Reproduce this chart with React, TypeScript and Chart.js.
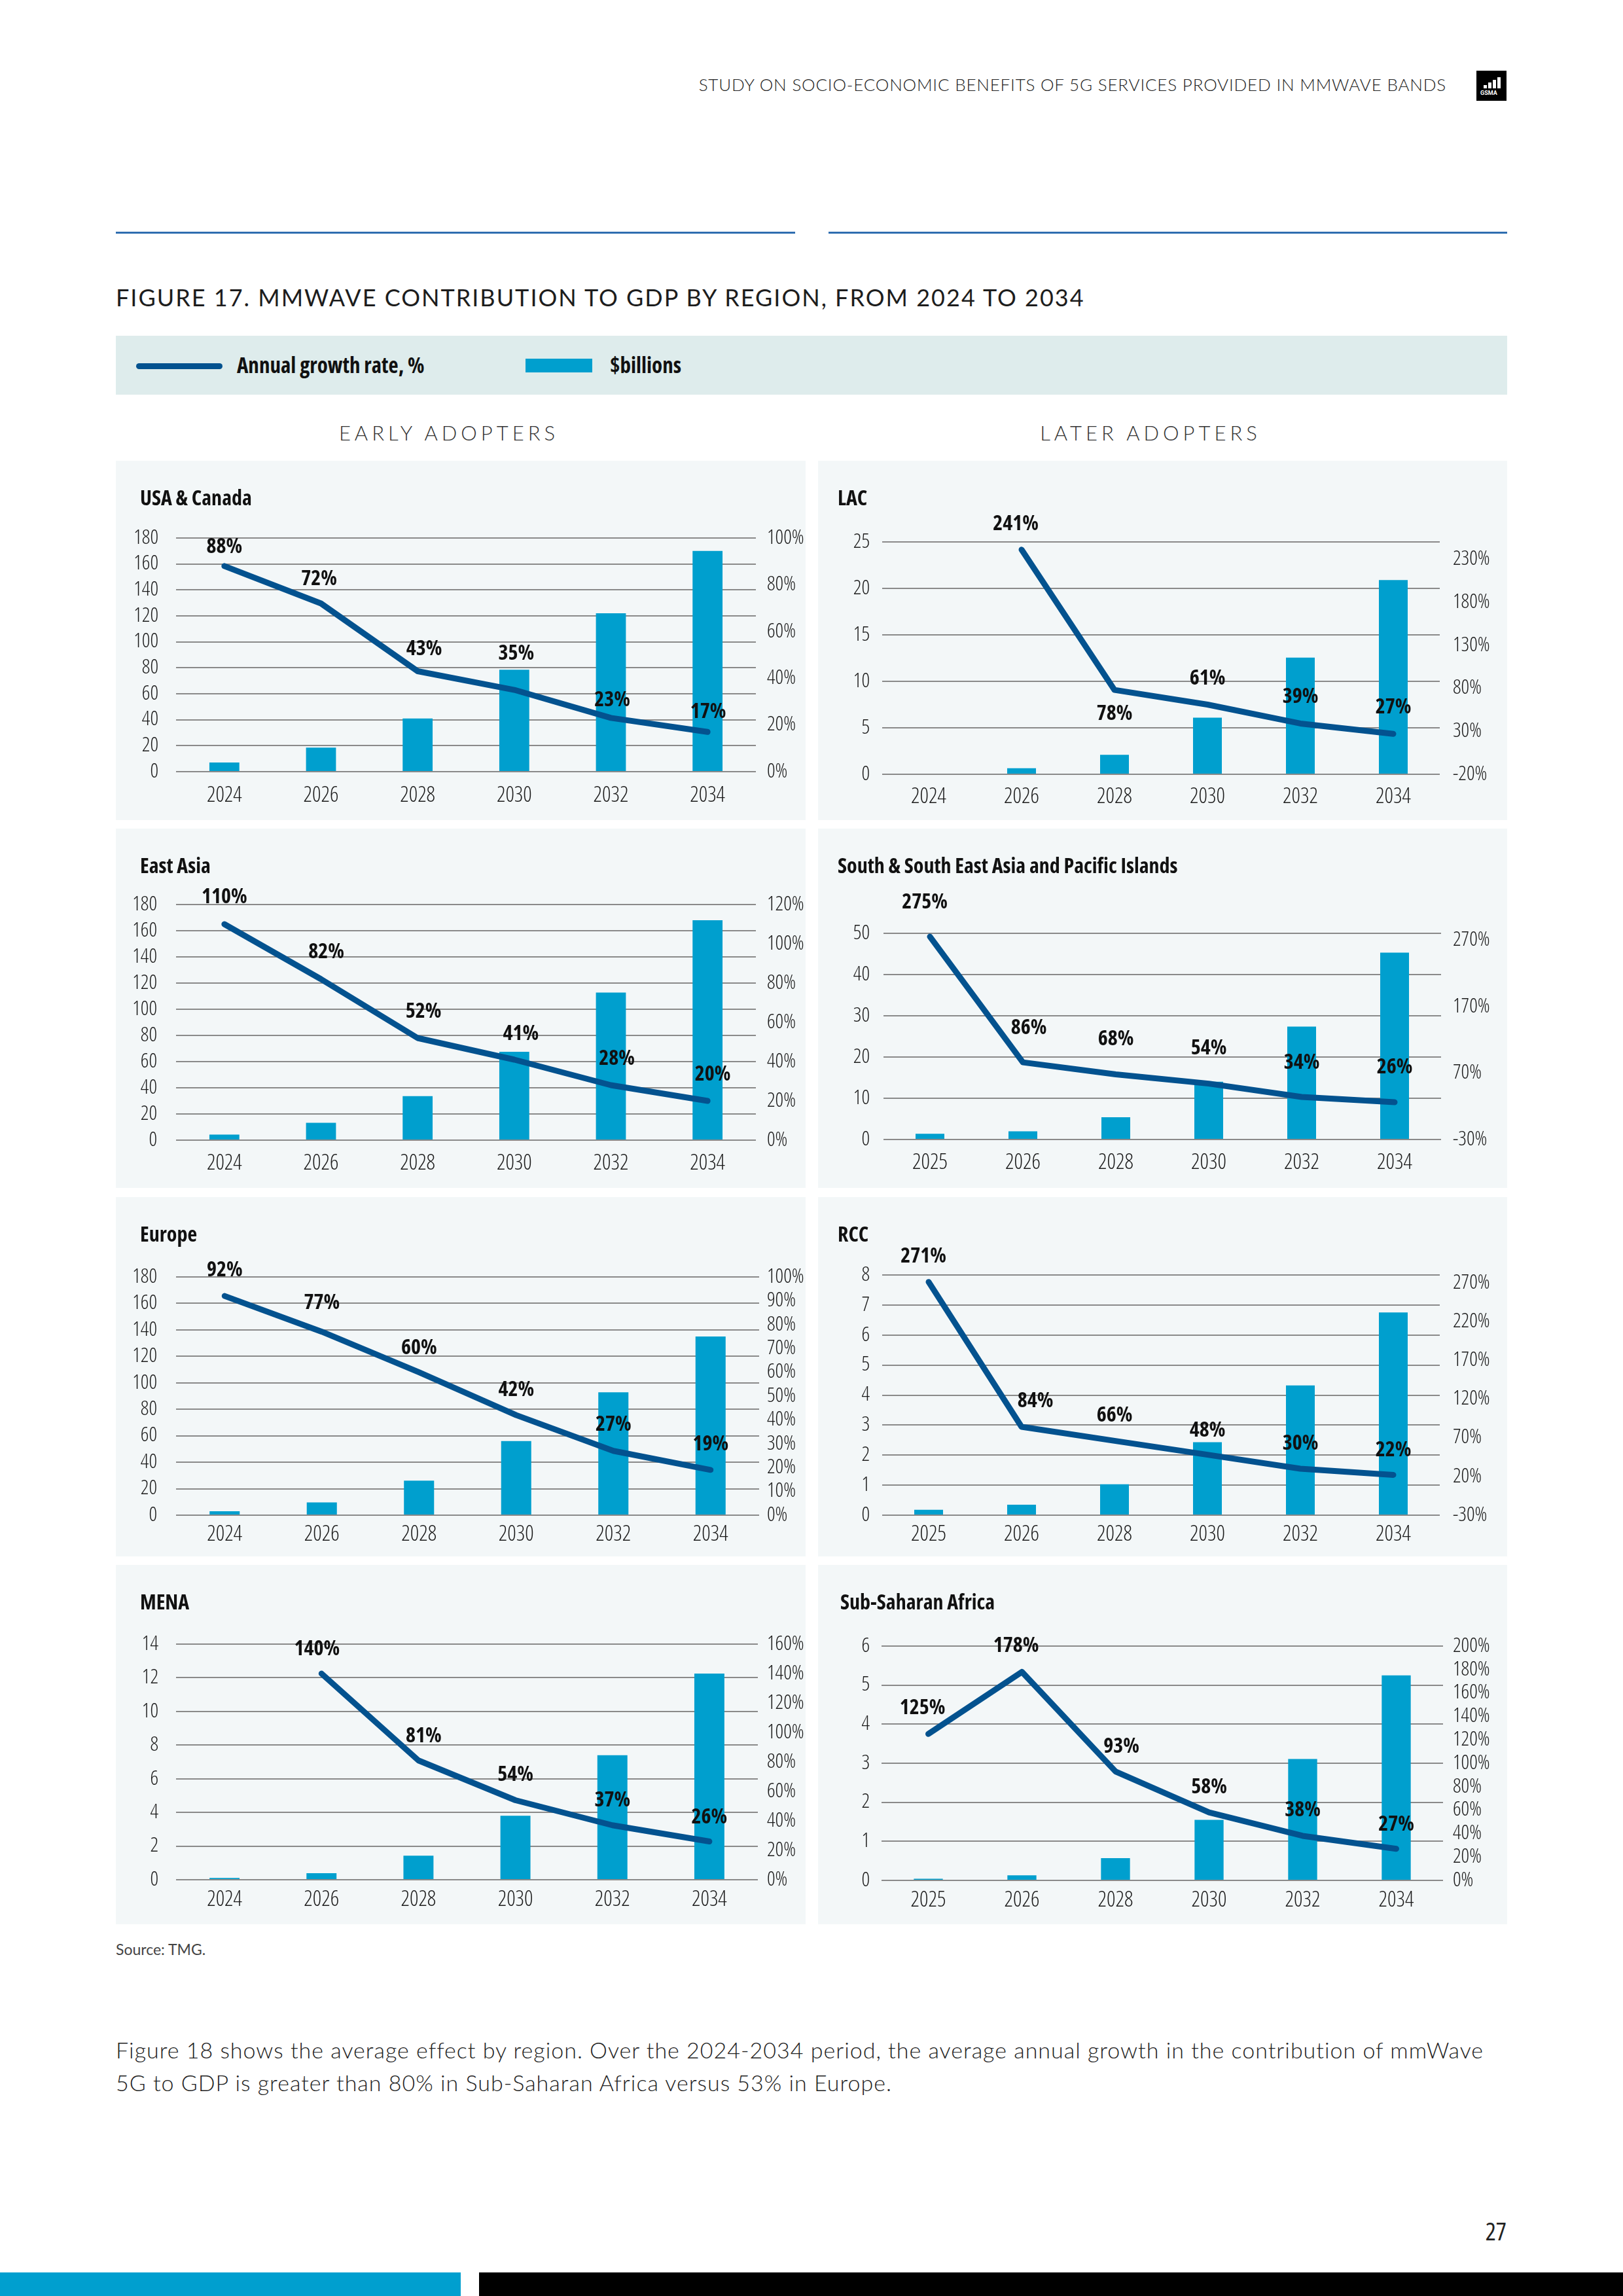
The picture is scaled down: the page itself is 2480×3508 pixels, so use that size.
import React, { useEffect, useRef } from 'react';
import { Chart, registerables } from 'chart.js';

Chart.register(...registerables);

const COND = "'Open Sans', 'DejaVu Sans Condensed', sans-serif";
const SANS = "'Lato', 'Open Sans', 'Noto Sans', sans-serif";

const BAR_COLOR = '#009fce';
const LINE_COLOR = '#03528f';
const PANEL_BG = '#f3f7f8';
const GRID_COLOR = '#8a8a8a';

// ---------- categories ----------
const yearsFrom2024 = ['2024', '2026', '2028', '2030', '2032', '2034'];
const yearsFrom2025 = ['2025', '2026', '2028', '2030', '2032', '2034'];

// ---------- series ($billions bars, annual growth % line) ----------
const usaCanadaBillions = [7, 18.5, 41, 78.5, 122, 170];
const usaCanadaGrowth = [88, 72, 43, 35, 23, 17];

const lacBillions = [0, 0.65, 2.1, 6.1, 12.55, 20.9];
const lacGrowth = [null, 241, 78, 61, 39, 27];

const eastAsiaBillions = [4.3, 13.2, 33.6, 67.5, 112.7, 168];
const eastAsiaGrowth = [110, 82, 52, 41, 28, 20];

const ssapBillions = [1.4, 2.0, 5.4, 14.0, 27.4, 45.3];
const ssapGrowth = [275, 86, 68, 54, 34, 26];

const europeBillions = [3, 9.7, 26.1, 56, 92.8, 135];
const europeGrowth = [92, 77, 60, 42, 27, 19];

const rccBillions = [0.18, 0.35, 1.03, 2.43, 4.32, 6.75];
const rccGrowth = [271, 84, 66, 48, 30, 22];

const menaBillions = [0.11, 0.39, 1.43, 3.8, 7.4, 12.25];
const menaGrowth = [null, 140, 81, 54, 37, 26];

const ssaBillions = [0.04, 0.13, 0.57, 1.55, 3.11, 5.25];
const ssaGrowth = [125, 178, 93, 58, 38, 27];

// ---------- tick values ----------
const ticks0to180by20 = [0, 20, 40, 60, 80, 100, 120, 140, 160, 180];
const pct0to100by20 = [0, 20, 40, 60, 80, 100];
const lacLeftTicks = [0, 5, 10, 15, 20, 25];
const lacRightTicks = [-20, 30, 80, 130, 180, 230];
const pct0to120by20 = [0, 20, 40, 60, 80, 100, 120];
const ssapLeftTicks = [0, 10, 20, 30, 40, 50];
const ssapRightTicks = [-30, 70, 170, 270];
const pct0to100by10 = [0, 10, 20, 30, 40, 50, 60, 70, 80, 90, 100];
const rccLeftTicks = [0, 1, 2, 3, 4, 5, 6, 7, 8];
const rccRightTicks = [-30, 20, 70, 120, 170, 220, 270];
const menaLeftTicks = [0, 2, 4, 6, 8, 10, 12, 14];
const pct0to160by20 = [0, 20, 40, 60, 80, 100, 120, 140, 160];
const ssaLeftTicks = [0, 1, 2, 3, 4, 5, 6];
const pct0to200by20 = [0, 20, 40, 60, 80, 100, 120, 140, 160, 180, 200];

// ---------- layout (panel geometry, not data) ----------
const COL_X = [177, 1250];
const COL_W = [1054, 1053];
const ROW_Y = [704, 1266, 1829, 2391];
const PANEL_H = 549;

type PanelCfg = {
  title: string;
  labels: string[];
  bars: (number | null)[];
  growth: (number | null)[];
  leftTicks: number[];
  rightTicks: number[];
  rightMin: number;
  rightMax: number;
  col: number;
  row: number;
  titleX: number;
  gl: number; gr: number; gt: number; gb: number;
  lp: number; rp: number; xp: number;
  dx: number[]; dy: number[];
};

const panels: PanelCfg[] = [
  {
    title: 'USA & Canada', labels: yearsFrom2024, bars: usaCanadaBillions, growth: usaCanadaGrowth,
    leftTicks: ticks0to180by20, rightTicks: pct0to100by20, rightMin: 0, rightMax: 100,
    col: 0, row: 0, titleX: 37, gl: 92, gr: 978, gt: 118, gb: 475, lp: 27, rp: 17, xp: 17,
    dx: [0, -3, 10, 3, 2, 1], dy: [-29, -37, -34, -55, -27, -30],
  },
  {
    title: 'LAC', labels: yearsFrom2024, bars: lacBillions, growth: lacGrowth,
    leftTicks: lacLeftTicks, rightTicks: lacRightTicks, rightMin: -20, rightMax: 250,
    col: 1, row: 0, titleX: 30, gl: 98, gr: 950, gt: 124, gb: 479, lp: 19, rp: 20, xp: 15,
    dx: [0, -9, 0, 0, 0, 0], dy: [0, -39, 37, -40, -41, -40],
  },
  {
    title: 'East Asia', labels: yearsFrom2024, bars: eastAsiaBillions, growth: eastAsiaGrowth,
    leftTicks: ticks0to180by20, rightTicks: pct0to120by20, rightMin: 0, rightMax: 120,
    col: 0, row: 1, titleX: 37, gl: 92, gr: 978, gt: 116, gb: 476, lp: 29, rp: 17, xp: 16,
    dx: [0, 8, 9, 10, 9, 8], dy: [-41, -41, -40, -39, -40, -40],
  },
  {
    title: 'South & South East Asia and Pacific Islands', labels: yearsFrom2025, bars: ssapBillions, growth: ssapGrowth,
    leftTicks: ssapLeftTicks, rightTicks: ssapRightTicks, rightMin: -30, rightMax: 280,
    col: 1, row: 1, titleX: 30, gl: 100, gr: 952, gt: 160, gb: 475, lp: 21, rp: 18, xp: 16,
    dx: [-8, 9, 0, 0, 0, 0], dy: [-52, -52, -54, -54, -52, -53],
  },
  {
    title: 'Europe', labels: yearsFrom2024, bars: europeBillions, growth: europeGrowth,
    leftTicks: ticks0to180by20, rightTicks: pct0to100by10, rightMin: 0, rightMax: 100,
    col: 0, row: 2, titleX: 37, gl: 92, gr: 983, gt: 122, gb: 486, lp: 29, rp: 12, xp: 10,
    dx: [0, 0, 0, 0, 0, 0], dy: [-39, -44, -37, -38, -40, -39],
  },
  {
    title: 'RCC', labels: yearsFrom2025, bars: rccBillions, growth: rccGrowth,
    leftTicks: rccLeftTicks, rightTicks: rccRightTicks, rightMin: -30, rightMax: 280,
    col: 1, row: 2, titleX: 30, gl: 98, gr: 950, gt: 119, gb: 486, lp: 19, rp: 20, xp: 10,
    dx: [-8, 21, 0, 0, 0, 0], dy: [-39, -39, -38, -37, -38, -38],
  },
  {
    title: 'MENA', labels: yearsFrom2024, bars: menaBillions, growth: menaGrowth,
    leftTicks: menaLeftTicks, rightTicks: pct0to160by20, rightMin: 0, rightMax: 160,
    col: 0, row: 3, titleX: 37, gl: 92, gr: 981, gt: 121, gb: 481, lp: 27, rp: 14, xp: 11,
    dx: [0, -7, 8, 0, 0, 0], dy: [0, -37, -37, -39, -38, -37],
  },
  {
    title: 'Sub-Saharan Africa', labels: yearsFrom2025, bars: ssaBillions, growth: ssaGrowth,
    leftTicks: ssaLeftTicks, rightTicks: pct0to200by20, rightMin: 0, rightMax: 200,
    col: 1, row: 3, titleX: 34, gl: 97, gr: 955, gt: 124, gb: 482, lp: 18, rp: 15, xp: 11,
    dx: [-9, -9, 9, 0, 0, 0], dy: [-39, -39, -38, -38, -39, -37],
  },
];

const Y_TICK_FONT = { family: COND, size: 31, weight: '300' as any };
const X_TICK_FONT = { family: COND, size: 33, weight: '300' as any };

// Make every font set on this canvas context use the condensed width.
function condenseContext(canvas: HTMLCanvasElement) {
  const ctx = canvas.getContext('2d') as any;
  if (!ctx || !('fontStretch' in ctx)) return;
  const desc = Object.getOwnPropertyDescriptor(CanvasRenderingContext2D.prototype, 'font');
  if (!desc || !desc.set || !desc.get) return;
  Object.defineProperty(ctx, 'font', {
    configurable: true,
    get() { return desc.get!.call(this); },
    set(v: string) { desc.set!.call(this, v); this.fontStretch = 'condensed'; },
  });
  ctx.fontStretch = 'condensed';
}

function makeLabelPlugin(cfg: PanelCfg) {
  return {
    id: 'growthLabels',
    afterDatasetsDraw(chart: any) {
      const meta = chart.getDatasetMeta(0);
      const ctx = chart.ctx as any;
      ctx.save();
      ctx.font = `bold 32px ${COND}`;
      if ('fontStretch' in ctx) ctx.fontStretch = 'condensed';
      ctx.fillStyle = '#111111';
      ctx.textAlign = 'center';
      ctx.textBaseline = 'middle';
      meta.data.forEach((pt: any, i: number) => {
        const v = cfg.growth[i];
        if (v === null || v === undefined) return;
        ctx.fillText(`${v}%`, pt.x + cfg.dx[i], pt.y + cfg.dy[i]);
      });
      ctx.restore();
    },
  };
}

const condCss: React.CSSProperties = { fontFamily: COND, fontStretch: '75%' as any };

function Panel({ cfg }: { cfg: PanelCfg }) {
  const ref = useRef<HTMLCanvasElement>(null);
  const W = COL_W[cfg.col];
  const H = PANEL_H;

  useEffect(() => {
    if (!ref.current) return;
    condenseContext(ref.current);
    const chart = new Chart(ref.current, {
      type: 'bar',
      data: {
        labels: cfg.labels,
        datasets: [
          {
            type: 'line',
            label: 'Annual growth rate, %',
            data: cfg.growth as any,
            yAxisID: 'y1',
            borderColor: LINE_COLOR,
            backgroundColor: LINE_COLOR,
            borderWidth: 9,
            pointRadius: 0,
            pointHoverRadius: 0,
            tension: 0,
            borderCapStyle: 'round',
            borderJoinStyle: 'round',
            fill: false,
            spanGaps: false,
            order: 0,
          } as any,
          {
            type: 'bar',
            label: '$billions',
            data: cfg.bars as any,
            yAxisID: 'y',
            backgroundColor: BAR_COLOR,
            borderWidth: 0,
            barPercentage: 0.31,
            categoryPercentage: 1,
            order: 1,
          } as any,
        ],
      },
      options: {
        animation: false,
        responsive: false,
        maintainAspectRatio: false,
        events: [],
        layout: { padding: { top: cfg.gt, left: 0, right: 0, bottom: 0 } },
        plugins: { legend: { display: false }, tooltip: { enabled: false } },
        scales: {
          x: {
            type: 'category',
            offset: true,
            grid: { display: false, drawTicks: false },
            border: { display: false },
            ticks: { font: X_TICK_FONT, color: '#1a1a1a', padding: cfg.xp, maxRotation: 0, autoSkip: false },
            afterFit: (s: any) => { s.height = H - cfg.gb; },
          },
          y: {
            type: 'linear',
            position: 'left',
            min: cfg.leftTicks[0],
            max: cfg.leftTicks[cfg.leftTicks.length - 1],
            afterBuildTicks: (s: any) => { s.ticks = cfg.leftTicks.map((v) => ({ value: v })); },
            grid: { color: GRID_COLOR, lineWidth: 2, drawTicks: false },
            border: { display: false },
            ticks: { font: Y_TICK_FONT, color: '#1a1a1a', padding: cfg.lp, autoSkip: false },
            afterFit: (s: any) => { s.width = cfg.gl; },
          },
          y1: {
            type: 'linear',
            position: 'right',
            min: cfg.rightMin,
            max: cfg.rightMax,
            afterBuildTicks: (s: any) => { s.ticks = cfg.rightTicks.map((v) => ({ value: v })); },
            grid: { display: false, drawTicks: false },
            border: { display: false },
            ticks: {
              font: Y_TICK_FONT, color: '#1a1a1a', padding: cfg.rp, autoSkip: false,
              callback: (v: any) => `${v}%`,
            },
            afterFit: (s: any) => { s.width = W - cfg.gr; },
          },
        },
      } as any,
      plugins: [makeLabelPlugin(cfg)],
    });
    return () => chart.destroy();
  }, []);

  return (
    <div style={{ position: 'absolute', left: COL_X[cfg.col], top: ROW_Y[cfg.row], width: W, height: H, background: PANEL_BG }}>
      <canvas ref={ref} width={W} height={H} style={{ position: 'absolute', left: 0, top: 0, width: W, height: H }} />
      <div style={{ ...condCss, position: 'absolute', left: cfg.titleX, top: 38, fontWeight: 700, fontSize: 32, lineHeight: '36px', color: '#111', whiteSpace: 'nowrap' }}>
        {cfg.title}
      </div>
    </div>
  );
}

export default function App() {
  return (
    <div style={{ position: 'absolute', left: 0, top: 0, width: 2480, height: 3508, background: '#ffffff', overflow: 'hidden', fontFamily: SANS }}>
      {/* running header */}
      <div style={{ position: 'absolute', right: 270, top: 113, fontSize: 26, lineHeight: '32px', fontWeight: 300, letterSpacing: 0.8, color: '#222', whiteSpace: 'nowrap' }}>
        STUDY ON SOCIO-ECONOMIC BENEFITS OF 5G SERVICES PROVIDED IN MMWAVE BANDS
      </div>
      <div style={{ position: 'absolute', left: 2256, top: 108, width: 46, height: 46, background: '#000' }}>
        {[5, 9, 13, 17].map((h, i) => (
          <div key={i} style={{ position: 'absolute', left: 11 + i * 7, top: 27 - h, width: 5, height: h, background: '#fff' }} />
        ))}
        <div style={{ position: 'absolute', left: 6, top: 29, fontSize: 9, lineHeight: '10px', color: '#fff', fontFamily: 'Roboto, sans-serif', fontWeight: 700 }}>GSMA</div>
      </div>

      {/* rules */}
      <div style={{ position: 'absolute', left: 177, top: 354, width: 1038, height: 3, background: '#2f6eb0' }} />
      <div style={{ position: 'absolute', left: 1266, top: 354, width: 1037, height: 3, background: '#2f6eb0' }} />

      {/* figure title */}
      <div style={{ position: 'absolute', left: 177, top: 433, fontSize: 36, lineHeight: '42px', fontWeight: 400, letterSpacing: 2, color: '#1d1d1d', whiteSpace: 'nowrap' }}>
        FIGURE 17. MMWAVE CONTRIBUTION TO GDP BY REGION, FROM 2024 TO 2034
      </div>

      {/* legend */}
      <div style={{ position: 'absolute', left: 177, top: 513, width: 2126, height: 90, background: '#deecec' }}>
        <div style={{ position: 'absolute', left: 31, top: 42, width: 132, height: 9, borderRadius: 5, background: LINE_COLOR }} />
        <div style={{ ...condCss, position: 'absolute', left: 185, top: 26, fontWeight: 700, fontSize: 33, lineHeight: '38px', color: '#111', whiteSpace: 'nowrap' }}>
          Annual growth rate, %
        </div>
        <div style={{ position: 'absolute', left: 626, top: 35, width: 102, height: 21, background: BAR_COLOR }} />
        <div style={{ ...condCss, position: 'absolute', left: 755, top: 26, fontWeight: 700, fontSize: 33, lineHeight: '38px', color: '#111', whiteSpace: 'nowrap' }}>
          $billions
        </div>
      </div>

      {/* group headings */}
      <div style={{ position: 'absolute', left: 386, top: 643, width: 600, textAlign: 'center', fontSize: 31, lineHeight: '36px', letterSpacing: 6, fontWeight: 300, color: '#333' }}>
        EARLY ADOPTERS
      </div>
      <div style={{ position: 'absolute', left: 1458, top: 643, width: 600, textAlign: 'center', fontSize: 31, lineHeight: '36px', letterSpacing: 6, fontWeight: 300, color: '#333' }}>
        LATER ADOPTERS
      </div>

      {panels.map((p, i) => <Panel key={i} cfg={p} />)}

      {/* source */}
      <div style={{ position: 'absolute', left: 177, top: 2964, fontSize: 23, lineHeight: '28px', color: '#444', fontWeight: 400 }}>
        Source: TMG.
      </div>

      {/* paragraph */}
      <div style={{ position: 'absolute', left: 177, top: 3107, fontSize: 34, lineHeight: '50px', fontWeight: 300, letterSpacing: 1, color: '#222', whiteSpace: 'nowrap' }}>
        Figure 18 shows the average effect by region. Over the 2024-2034 period, the average annual growth in the contribution of mmWave
        <br />
        5G to GDP is greater than 80% in Sub-Saharan Africa versus 53% in Europe.
      </div>

      {/* page number */}
      <div style={{ ...condCss, position: 'absolute', right: 178, top: 3386, fontSize: 38, lineHeight: '44px', color: '#222' }}>27</div>

      {/* footer bars */}
      <div style={{ position: 'absolute', left: 0, top: 3472, width: 704, height: 36, background: '#009fcf' }} />
      <div style={{ position: 'absolute', left: 732, top: 3472, width: 1748, height: 36, background: '#000' }} />
    </div>
  );
}
